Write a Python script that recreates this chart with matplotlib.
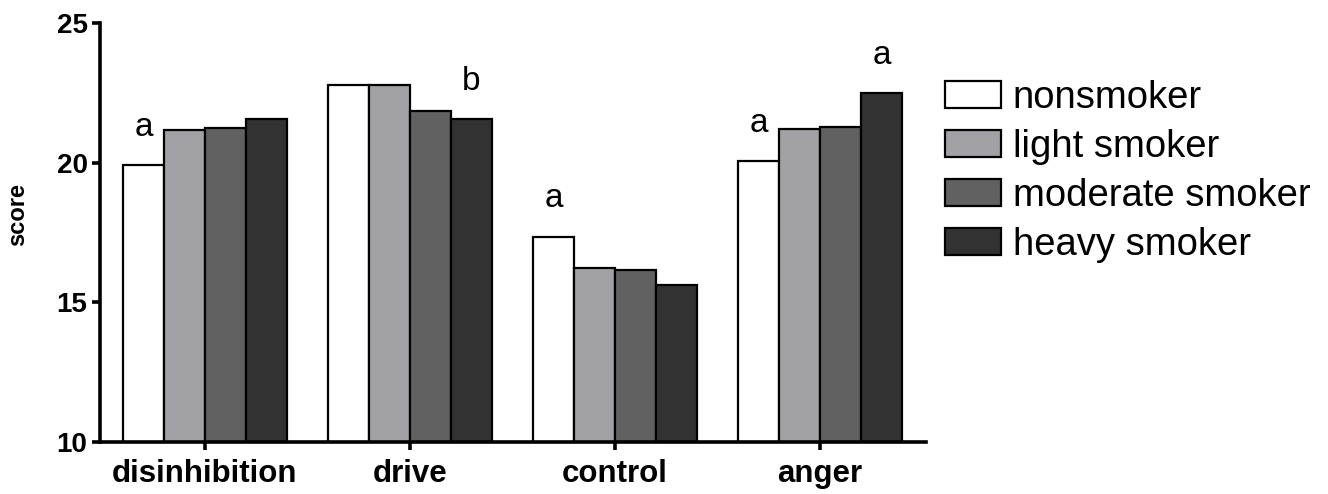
import matplotlib
matplotlib.use("Agg")
import matplotlib.pyplot as plt
import numpy as np

# Mean scale scores by smoking status
scales = ["disinhibition", "drive", "control", "anger"]
groups = ["nonsmoker", "light smoker", "moderate smoker", "heavy smoker"]
nonsmoker = [19.92, 22.78, 17.35, 20.06]
light_smoker = [21.17, 22.78, 16.22, 21.19]
moderate_smoker = [21.25, 21.86, 16.15, 21.27]
heavy_smoker = [21.56, 21.55, 15.62, 22.49]
series = [nonsmoker, light_smoker, moderate_smoker, heavy_smoker]
colors = ["#ffffff", "#a2a2a6", "#616161", "#323232"]

# Significance letters: (scale index, group index, letter)
letters = [(0, 0, "a"), (1, 3, "b"), (2, 0, "a"), (3, 0, "a"), (3, 3, "a")]

plt.rcParams["font.family"] = ["Liberation Sans", "DejaVu Sans"]

W, H = 1328, 494
fig = plt.figure(figsize=(W / 100, H / 100), dpi=100)
ax = fig.add_axes([100 / W, 1 - 442 / H, (926 - 100) / W, (442 - 23) / H])

x = np.arange(len(scales))
bw = 0.2
for i, (vals, c) in enumerate(zip(series, colors)):
    ax.bar(x + (i - 1.5) * bw, vals, width=bw, bottom=0, color=c,
           edgecolor="black", linewidth=1.6, label=groups[i], zorder=2)

for si, gi, txt in letters:
    ax.annotate(txt, (x[si] + (gi - 1.5) * bw, series[gi][si]),
                xytext=(0, 16), textcoords="offset points",
                ha="center", va="bottom", fontsize=24)

ax.set_ylim(10, 25)
ax.set_xlim(-0.512, 3.517)
ax.set_yticks([10, 15, 20, 25])
ax.set_xticks(x)
ax.set_xticklabels(scales)
ax.set_ylabel("score", fontsize=17, fontweight="bold")
ax.yaxis.set_label_coords(-0.086, 0.542)

for s in ["top", "right"]:
    ax.spines[s].set_visible(False)
for s in ["left", "bottom"]:
    ax.spines[s].set_linewidth(2.6)
ax.tick_params(axis="both", width=2.6, length=6, direction="out")
ax.tick_params(axis="x", pad=6, labelsize=22.5)
ax.tick_params(axis="y", pad=3, labelsize=20)
for lab in ax.get_yticklabels() + ax.get_xticklabels():
    lab.set_fontweight("bold")

fig.legend(loc="upper left", bbox_to_anchor=(945 / W, 1 - 80 / H),
           frameon=False, fontsize=27.5, handlelength=1.47,
           handleheight=0.71, handletextpad=0.3, labelspacing=0.34,
           borderpad=0, borderaxespad=0)

fig.savefig("out.png", dpi=100)
